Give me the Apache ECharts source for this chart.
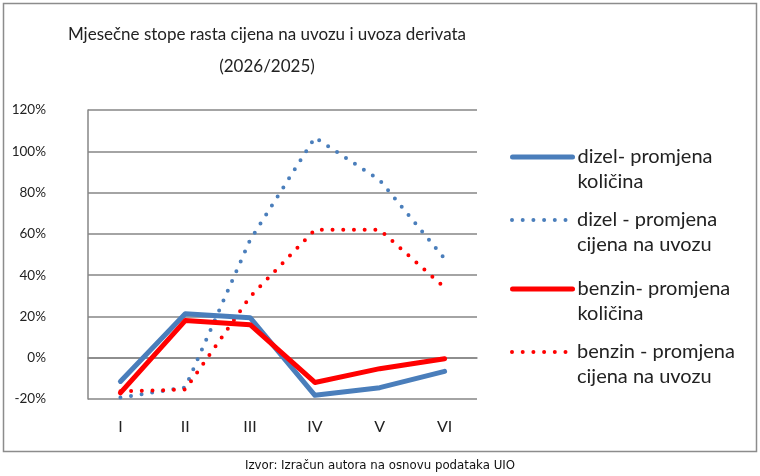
<!DOCTYPE html>
<html>
<head>
<meta charset="utf-8">
<script src="https://cdn.jsdelivr.net/npm/echarts@6/dist/echarts.min.js"></script>
<style>
  html, body { margin: 0; padding: 0; background: #fff; }
  #chart { width: 760px; height: 476px; }
</style>
</head>
<body>
<div id="chart"></div>
<script>
// mjeseci
var months = ['I', 'II', 'III', 'IV', 'V', 'VI'];
var yTicks = [-20, 0, 20, 40, 60, 80, 100, 120];

// vrijednosti u %
var dizelKolicina = [-11.5, 21.3, 19.4, -18.2, -14.5, -6.6];
var dizelCijena = [-19.3, -14.4, 57, 106.7, 86, 48];
var benzinKolicina = [-17, 18, 16, -12, -5.3, -0.5];
var benzinCijena = [-16.3, -15.4, 29.5, 62, 62, 34];

var names = ['dizel- promjena\nkoličina', 'dizel - promjena\ncijena na uvozu',
             'benzin- promjena\nkoličina', 'benzin - promjena\ncijena na uvozu'];

var FONT = 'Lato, "Open Sans", sans-serif';
var BLUE = '#4a7ebb';
var RED = '#ff0000';

var chart = echarts.init(document.getElementById('chart'), null, { renderer: 'canvas' });

var solid = function(name, data, color){
    return {
        name: name, type: 'line', data: data, symbol: 'none', z: 3,
        lineStyle: { color: color, width: 5, cap: 'round', join: 'round' },
        itemStyle: { color: color }
    };
};
var dotted = function(name, data, color){
    return {
        name: name, type: 'line', data: data, symbol: 'none', z: 2,
        lineStyle: { color: color, width: 4, type: [0, 10.7], cap: 'round' },
        itemStyle: { color: color }
    };
};

// legenda: jedna po stavci, ikona poravnata s prvim redom (prazan red ispred)
var legendTops = [157, 220, 289, 352];
var legendWidths = [5, 4, 5, 4];
var legends = [];
for (var i = 0; i < names.length; i++) {
    legends.push({
        data: [names[i]],
        left: 510,
        top: legendTops[i] - 37.5,
        orient: 'vertical',
        itemWidth: 60,
        itemHeight: 14,
        itemGap: 0,
        padding: 0,
        selectedMode: false,
        itemStyle: { opacity: 0 },
        lineStyle: { width: legendWidths[i], cap: 'round' },
        formatter: function(name){ return '\n' + name; },
        textStyle: { fontFamily: FONT, fontSize: 20, color: '#222', lineHeight: 25 }
    });
}

var option = {
    animation: false,
    backgroundColor: '#fff',
    title: {
        text: 'Mjesečne stope rasta cijena na uvozu i uvoza derivata\n(2026/2025)',
        left: 262,
        top: 14,
        textAlign: 'center',
        textStyle: { fontFamily: FONT, fontSize: 17, fontWeight: 'normal', color: '#222', lineHeight: 32 }
    },
    legend: legends,
    grid: { left: 88, right: 283, top: 110, bottom: 77 },
    xAxis: {
        type: 'category',
        data: months,
        boundaryGap: true,
        axisLine: { lineStyle: { color: '#868686', width: 1.5 } },
        axisTick: { show: false },
        axisLabel: { fontFamily: FONT, fontSize: 16, color: '#222', margin: 20 }
    },
    yAxis: {
        type: 'value',
        min: yTicks[0],
        max: yTicks[yTicks.length - 1],
        interval: 20,
        axisLine: { show: true, lineStyle: { color: '#868686', width: 1.5 } },
        axisTick: { show: false },
        splitLine: { lineStyle: { color: '#868686', width: 1.5 } },
        axisLabel: { fontFamily: FONT, fontSize: 13.5, color: '#222', margin: 42, formatter: '{value}%' }
    },
    series: [
        dotted(names[1], dizelCijena, BLUE),
        dotted(names[3], benzinCijena, RED),
        solid(names[0], dizelKolicina, BLUE),
        solid(names[2], benzinKolicina, RED)
    ],
    graphic: [
        {
            type: 'rect', silent: true, z: -1,
            shape: { x: 3.5, y: 3.5, width: 753, height: 448 },
            style: { fill: null, stroke: '#8c8c8c', lineWidth: 1.5 }
        },
        {
            type: 'text', left: 'center', top: 459,
            style: { text: 'Izvor: Izračun autora na osnovu podataka UIO',
                     font: '13.1px "DejaVu Sans Condensed", "DejaVu Sans", sans-serif', fill: '#111' }
        }
    ]
};
chart.setOption(option);
</script>
</body>
</html>
